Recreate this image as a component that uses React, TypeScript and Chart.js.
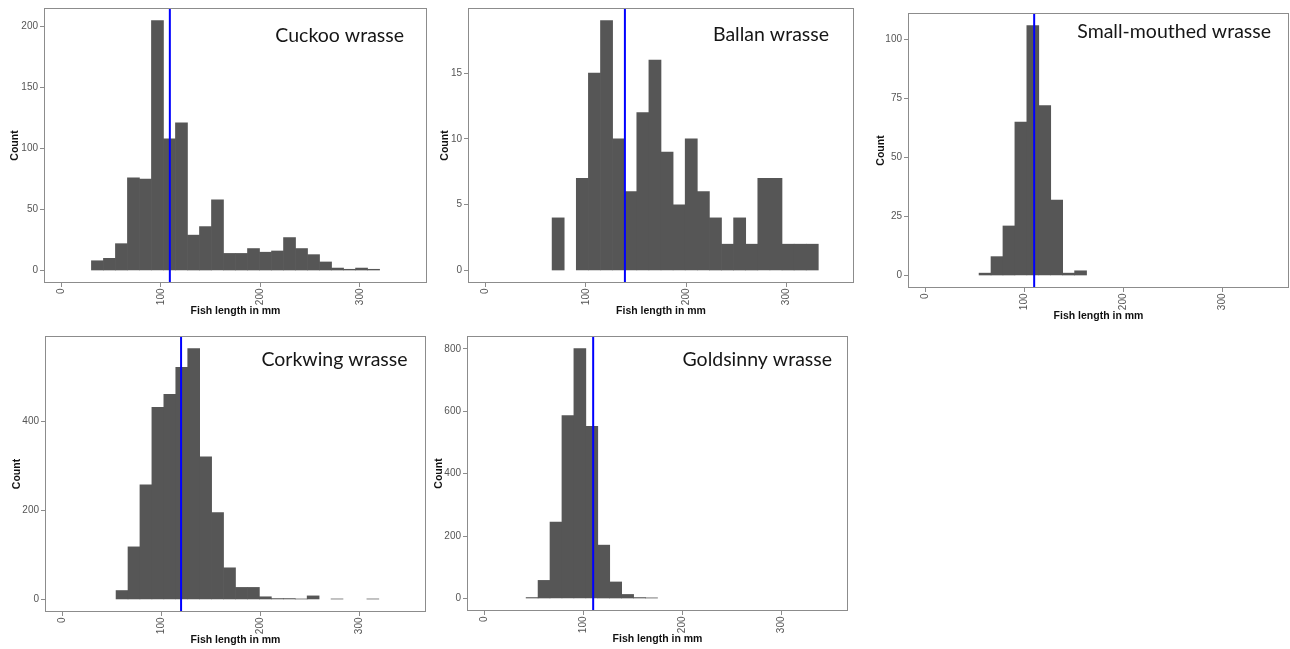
import React, { useEffect, useRef } from "react";
import { Chart, registerables } from "chart.js";

Chart.register(...registerables);

// ---- data ----
const BIN_WIDTH = 350 / 29;
const X_MIN = -17.5;
const X_MAX = 367.5;
const xTickValues = [0, 100, 200, 300];

const speciesNames = [
  "Cuckoo wrasse",
  "Ballan wrasse",
  "Small-mouthed wrasse",
  "Corkwing wrasse",
  "Goldsinny wrasse",
];

// index of the first bin (bin k is centred on k * BIN_WIDTH mm)
const firstBin = [3, 6, 5, 5, 4];

const cuckooCounts = [8, 10, 22, 76, 75, 205, 108, 121, 29, 36, 58, 14, 14, 18, 15, 16, 27, 18, 13, 7, 2, 1, 2, 1];
const ballanCounts = [4, 0, 7, 15, 19, 10, 6, 12, 16, 9, 5, 10, 6, 4, 2, 4, 2, 7, 7, 2, 2, 2];
const smallMouthedCounts = [1, 8, 21, 65, 106, 72, 32, 1, 2];
const corkwingCounts = [20, 118, 257, 431, 460, 521, 563, 320, 195, 71, 27, 27, 6, 2, 2, 1, 8, 0, 1, 0, 0, 1];
const goldsinnyCounts = [3, 58, 245, 586, 801, 552, 171, 53, 13, 3, 2];

const allCounts = [cuckooCounts, ballanCounts, smallMouthedCounts, corkwingCounts, goldsinnyCounts];

const meanLengths = [109, 139, 110, 120, 110];

const yTickValues = [
  [0, 50, 100, 150, 200],
  [0, 5, 10, 15],
  [0, 25, 50, 75, 100],
  [0, 200, 400],
  [0, 200, 400, 600, 800],
];

// ---- layout (styles / positions) ----
const layouts = [
  { frameL: 44, frameR: 427, frameT: 8, frameB: 283, titleRight: 404, titleBase: 41.5, yTitleOff: 29 },
  { frameL: 468, frameR: 854, frameT: 8, frameB: 283, titleRight: 829, titleBase: 41, yTitleOff: 22.5 },
  { frameL: 908, frameR: 1289, frameT: 13, frameB: 288, titleRight: 1271, titleBase: 38, yTitleOff: 27 },
  { frameL: 45, frameR: 426, frameT: 336, frameB: 612, titleRight: 407.5, titleBase: 366, yTitleOff: 28.3 },
  { frameL: 467, frameR: 848, frameT: 336, frameB: 611, titleRight: 832, titleBase: 365.5, yTitleOff: 28 },
];

const Y_AXIS_W = 40;
const X_AXIS_H = 40;
const PAD_T = 8;
const PAD_R = 4;
const BAR_COLOR = "#565656";
const FRAME_COLOR = "#8c8c8c";
const TICK_COLOR = "#555555";
const MEAN_COLOR = "#0000ff";
const BASE_FONT = '"Liberation Sans", Arial, sans-serif';

function Panel({ idx }: { idx: number }) {
  const ref = useRef<HTMLCanvasElement | null>(null);
  const L = layouts[idx];
  const x0 = L.frameL - Y_AXIS_W;
  const y0 = L.frameT - PAD_T;
  const w = L.frameR - x0 + PAD_R;
  const h = L.frameB - y0 + X_AXIS_H;

  useEffect(() => {
    if (!ref.current) return;
    const counts = allCounts[idx];
    const data = counts
      .map((c, i) => ({ x: (firstBin[idx] + i) * BIN_WIDTH, y: c }))
      .filter((p) => p.y > 0);
    const maxCount = Math.max(...counts);
    const mean = meanLengths[idx];
    const name = speciesNames[idx];

    const overlay = {
      id: "overlay" + idx,
      afterDatasetsDraw(chart: any) {
        const { ctx, chartArea } = chart;
        const { left, right, top, bottom } = chartArea;
        ctx.save();
        // mean line
        const mx = chart.scales.x.getPixelForValue(mean);
        ctx.strokeStyle = MEAN_COLOR;
        ctx.lineWidth = 2;
        ctx.beginPath();
        ctx.moveTo(mx, top);
        ctx.lineTo(mx, bottom);
        ctx.stroke();
        // frame
        ctx.strokeStyle = FRAME_COLOR;
        ctx.lineWidth = 1;
        ctx.strokeRect(left + 0.5, top + 0.5, right - left - 1, bottom - top - 1);
        // species title
        ctx.fillStyle = "#161616";
        ctx.font = '19.5px Lato, "Open Sans", sans-serif';
        ctx.textAlign = "right";
        ctx.textBaseline = "alphabetic";
        ctx.fillText(name, L.titleRight - x0, L.titleBase - y0);
        ctx.restore();
      },
    };

    const chart = new Chart(ref.current, {
      type: "bar",
      data: {
        datasets: [
          {
            data,
            backgroundColor: BAR_COLOR,
            borderWidth: 0,
            categoryPercentage: 1,
            barPercentage: 1,
          } as any,
        ],
      },
      options: {
        animation: false,
        responsive: false,
        devicePixelRatio: 1,
        layout: { padding: { left: 0, top: PAD_T, right: PAD_R, bottom: 0 } },
        plugins: { legend: { display: false }, tooltip: { enabled: false } },
        scales: {
          x: {
            type: "linear",
            min: X_MIN,
            max: X_MAX,
            offset: false,
            afterBuildTicks: (s: any) => {
              s.ticks = xTickValues.map((v) => ({ value: v }));
            },
            afterFit: (s: any) => {
              s.height = X_AXIS_H;
            },
            ticks: {
              autoSkip: false,
              minRotation: 90,
              maxRotation: 90,
              padding: 1.5,
              color: TICK_COLOR,
              font: { family: BASE_FONT, size: 10 },
              callback: (v: any) => String(v),
            },
            grid: { drawOnChartArea: false, drawTicks: true, tickLength: 4, color: FRAME_COLOR, offset: false },
            border: { display: false },
            title: {
              display: true,
              text: "Fish length in mm",
              color: "#111111",
              font: { family: BASE_FONT, size: 10.5, weight: "bold" },
              padding: { top: 0, bottom: 5.2 },
            },
          },
          y: {
            type: "linear",
            min: -0.05 * maxCount,
            max: 1.05 * maxCount,
            afterBuildTicks: (s: any) => {
              s.ticks = yTickValues[idx].map((v) => ({ value: v }));
            },
            afterFit: (s: any) => {
              s.width = Y_AXIS_W;
            },
            ticks: {
              autoSkip: false,
              padding: 2,
              color: TICK_COLOR,
              font: { family: BASE_FONT, size: 10 },
              callback: (v: any) => String(v),
            },
            grid: { drawOnChartArea: false, drawTicks: true, tickLength: 4, color: FRAME_COLOR },
            border: { display: false },
            title: {
              display: true,
              text: "Count",
              color: "#111111",
              font: { family: BASE_FONT, size: 10.5, weight: "bold" },
              padding: { top: Y_AXIS_W - L.yTitleOff - 6.3, bottom: 0 },
            },
          },
        },
      } as any,
      plugins: [overlay],
    });
    return () => chart.destroy();
  }, [idx]);

  return (
    <canvas
      ref={ref}
      width={w}
      height={h}
      style={{ position: "absolute", left: x0, top: y0, width: w, height: h }}
    />
  );
}

export default function App() {
  return (
    <div
      style={{
        position: "absolute",
        left: 0,
        top: 0,
        width: 1290,
        height: 649,
        overflow: "hidden",
        background: "#ffffff",
      }}
    >
      {speciesNames.map((_, i) => (
        <Panel key={i} idx={i} />
      ))}
    </div>
  );
}
